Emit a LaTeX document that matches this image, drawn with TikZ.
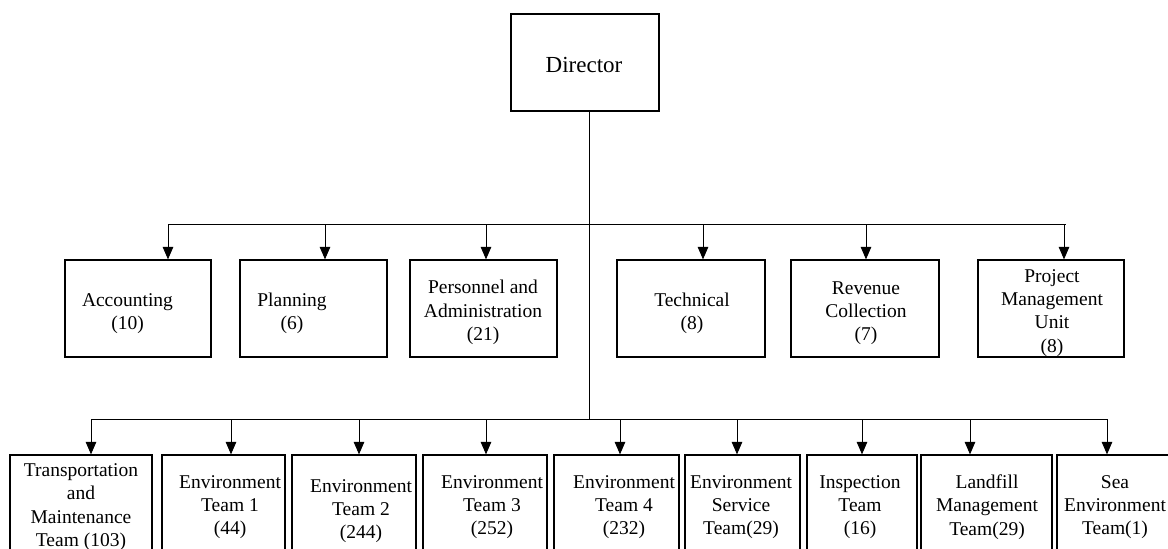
\documentclass[tikz,border=0pt]{standalone}
\usepackage{fontspec}
\setmainfont{Liberation Serif}
\usetikzlibrary{arrows.meta,fit}
\begin{document}
\begin{tikzpicture}[x=1pt,y=-1pt,
  unit/.style={draw, line width=1.2pt, inner sep=0pt},
  lbl/.style={align=center, inner sep=0pt, font=\fontsize{19.5}{23.3}\selectfont},
  toplbl/.style={inner sep=0pt, font=\fontsize{23}{27}\selectfont},
  bus/.style={line width=1pt},
  feed/.style={line width=1pt, -{Triangle[width=10.5pt,length=12.5pt]}}]
\clip (0,0) rectangle (1168,549);
\fill[white] (0,0) rectangle (1168,549);

% Director
\node[unit, fit={(511,14) (659,111)}] (dir) {};
\node[toplbl] (dirT) at (584,65) {Director};

% Departments
\node[unit, fit={(65,260) (211,357)}]   (acc) {};
\node[unit, fit={(240,260) (387,357)}]  (pln) {};
\node[unit, fit={(410,260) (557,357)}]  (per) {};
\node[unit, fit={(617,260) (765,357)}]  (tec) {};
\node[unit, fit={(791,260) (939,357)}]  (rev) {};
\node[unit, fit={(978,260) (1124,357)}] (pmu) {};

\node[lbl] (accT) at (127.5,313.5) {Accounting\\(10)};
\node[lbl] (plnT) at (292,313.5)   {Planning\\(6)};
\node[lbl] (perT) at (483,312.5)   {Personnel and\\Administration\\(21)};
\node[lbl] (tecT) at (692,313.5)   {Technical\\(8)};
\node[lbl] (revT) at (866,313)     {Revenue\\Collection\\(7)};
\node[lbl] (pmuT) at (1052,312.7)  {Project\\Management\\Unit\\(8)};

% Teams
\node[unit, fit={(10,455) (152,565)}]    (tm)  {};
\node[unit, fit={(162,455) (285,565)}]   (e1)  {};
\node[unit, fit={(292,455) (416,565)}]   (e2)  {};
\node[unit, fit={(423,455) (547,565)}]   (e3)  {};
\node[unit, fit={(554,455) (679,565)}]   (e4)  {};
\node[unit, fit={(685,455) (800,565)}]   (es)  {};
\node[unit, fit={(807,455) (917,565)}]   (ins) {};
\node[unit, fit={(921,455) (1052,565)}]  (lf)  {};
\node[unit, fit={(1057,455) (1173,565)}] (sea) {};

\node[lbl] (tmT)  at (81,507)   {Transportation\\and\\Maintenance\\Team (103)};
\node[lbl] (e1T)  at (230,507)  {Environment\\Team 1\\(44)};
\node[lbl] (e2T)  at (361,511)  {Environment\\Team 2\\(244)};
\node[lbl] (e3T)  at (492,507)  {Environment\\Team 3\\(252)};
\node[lbl] (e4T)  at (624,507)  {Environment\\Team 4\\(232)};
\node[lbl] (esT)  at (741,507)  {Environment\\Service\\Team(29)};
\node[lbl] (insT) at (860,507)  {Inspection\\Team\\(16)};
\node[lbl] (lfT)  at (987,507)  {Landfill\\Management\\Team(29)};
\node[lbl] (seaT) at (1115,507) {Sea\\Environment\\Team(1)};

% Trunk and distribution lines
\coordinate (mid) at (589,224);
\coordinate (low) at (589,419);
\draw[bus] (dir.south -| low) -- (low);

\coordinate (m1) at (168,224);
\coordinate (m2) at (325,224);
\coordinate (m3) at (486,224);
\coordinate (m4) at (703,224);
\coordinate (m5) at (866,224);
\coordinate (m6) at (1064,224);
\coordinate (mEnd) at (1066,224);
\draw[bus] (m1) -- (mEnd);

\draw[feed] (m1) -- (m1 |- acc.north);
\draw[feed] (m2) -- (m2 |- pln.north);
\draw[feed] (m3) -- (m3 |- per.north);
\draw[feed] (m4) -- (m4 |- tec.north);
\draw[feed] (m5) -- (m5 |- rev.north);
\draw[feed] (m6) -- (m6 |- pmu.north);

\coordinate (b1) at (91,419);
\coordinate (b2) at (231,419);
\coordinate (b3) at (359,419);
\coordinate (b4) at (486,419);
\coordinate (b5) at (620,419);
\coordinate (b6) at (737,419);
\coordinate (b7) at (862,419);
\coordinate (b8) at (970,419);
\coordinate (b9) at (1107,419);
\coordinate (bEnd) at (1108,419);
\draw[bus] (b1) -- (bEnd);

\draw[feed] (b1) -- (b1 |- tm.north);
\draw[feed] (b2) -- (b2 |- e1.north);
\draw[feed] (b3) -- (b3 |- e2.north);
\draw[feed] (b4) -- (b4 |- e3.north);
\draw[feed] (b5) -- (b5 |- e4.north);
\draw[feed] (b6) -- (b6 |- es.north);
\draw[feed] (b7) -- (b7 |- ins.north);
\draw[feed] (b8) -- (b8 |- lf.north);
\draw[feed] (b9) -- (b9 |- sea.north);
\end{tikzpicture}
\end{document}
